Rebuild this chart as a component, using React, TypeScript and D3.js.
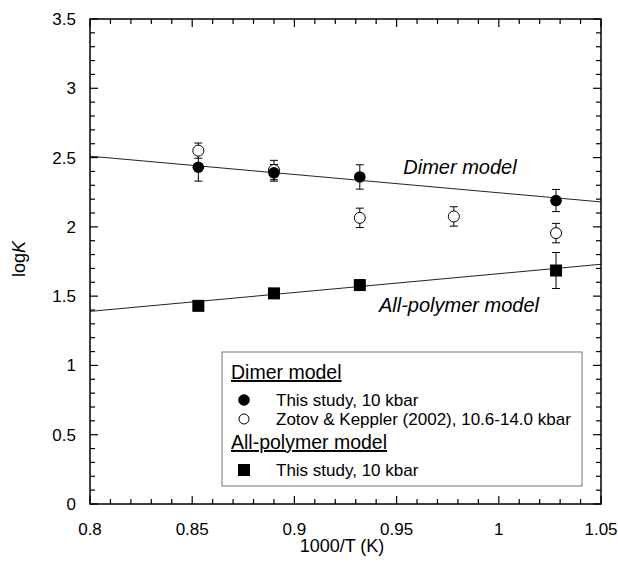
import React from "react";
import * as d3 from "d3";

const dimerX = [0.853, 0.89, 0.932, 1.028];
const dimerY = [2.43, 2.39, 2.36, 2.19];
const dimerErr = [0.1, 0.06, 0.088, 0.08];

const zotovX = [0.853, 0.89, 0.932, 0.978, 1.028];
const zotovY = [2.55, 2.41, 2.065, 2.075, 1.955];
const zotovErr = [0.055, 0.07, 0.07, 0.07, 0.07];

const polyX = [0.853, 0.89, 0.932, 1.028];
const polyY = [1.43, 1.52, 1.58, 1.685];
const polyErr = [0, 0, 0, 0.13];

const dimerLine = [[0.8, 2.51], [1.05, 2.18]];
const polyLine = [[0.8, 1.39], [1.05, 1.73]];

const xTicks = [0.8, 0.85, 0.9, 0.95, 1, 1.05];
const yTicks = [0, 0.5, 1, 1.5, 2, 2.5, 3, 3.5];

const W = 618, H = 566;
const L = 90, T = 19, R = 601, B = 504;

export default function App() {
  const x = d3.scaleLinear().domain([0.8, 1.05]).range([L, R]);
  const y = d3.scaleLinear().domain([0, 3.5]).range([B, T]);
  const line = d3.line<number[]>().x(d => x(d[0])).y(d => y(d[1]));
  const font = "Liberation Sans, Arial, sans-serif";

  const xMinor = d3.range(0, 26).map(i => 0.8 + i * 0.01);
  const yMinor = d3.range(0, 36).map(i => i * 0.1);
  const isMajorX = (v: number) => Math.abs(v * 20 - Math.round(v * 20)) < 1e-6;
  const isMajorY = (v: number) => Math.abs(v * 2 - Math.round(v * 2)) < 1e-6;

  const errBar = (cx: number, cy: number, e: number, key: string) => {
    if (!e) return null;
    const px = x(cx);
    return (
      <g key={key} stroke="#000" strokeWidth={1}>
        <line x1={px} x2={px} y1={y(cy - e)} y2={y(cy + e)} />
        <line x1={px - 4} x2={px + 4} y1={y(cy - e)} y2={y(cy - e)} />
        <line x1={px - 4} x2={px + 4} y1={y(cy + e)} y2={y(cy + e)} />
      </g>
    );
  };

  return (
    <svg width={W} height={H} style={{ position: "absolute", left: 0, top: 0, background: "#fff" }} fontFamily={font}>
      <rect x={0} y={0} width={W} height={H} fill="#fff" />
      {/* fit lines */}
      <path d={line(dimerLine as any) || ""} stroke="#222" strokeWidth={1} fill="none" />
      <path d={line(polyLine as any) || ""} stroke="#222" strokeWidth={1} fill="none" />

      {/* error bars */}
      {zotovX.map((v, i) => errBar(v, zotovY[i], zotovErr[i], "ze" + i))}
      {dimerX.map((v, i) => errBar(v, dimerY[i], dimerErr[i], "de" + i))}
      {polyX.map((v, i) => errBar(v, polyY[i], polyErr[i], "pe" + i))}

      {/* markers */}
      {zotovX.map((v, i) => (
        <circle key={"z" + i} cx={x(v)} cy={y(zotovY[i])} r={5.5} fill="#fff" stroke="#000" strokeWidth={1} />
      ))}
      {dimerX.map((v, i) => (
        <circle key={"d" + i} cx={x(v)} cy={y(dimerY[i])} r={5.8} fill="#000" />
      ))}
      {polyX.map((v, i) => (
        <rect key={"p" + i} x={x(v) - 6} y={y(polyY[i]) - 6} width={12} height={12} fill="#000" />
      ))}

      {/* curve labels */}
      <text x={460} y={174} fontSize={20} fontStyle="italic" textAnchor="middle">Dimer model</text>
      <text x={459} y={312} fontSize={20} fontStyle="italic" textAnchor="middle">All-polymer model</text>

      {/* ticks */}
      {xMinor.map((v, i) => {
        const len = isMajorX(v) ? 8 : 5;
        return (
          <g key={"xt" + i} stroke="#000" strokeWidth={1.2}>
            <line x1={x(v)} x2={x(v)} y1={B} y2={B - len} />
            <line x1={x(v)} x2={x(v)} y1={T} y2={T + len} />
          </g>
        );
      })}
      {yMinor.map((v, i) => {
        const len = isMajorY(v) ? 8 : 5;
        return (
          <g key={"yt" + i} stroke="#000" strokeWidth={1.2}>
            <line x1={L} x2={L + len} y1={y(v)} y2={y(v)} />
            <line x1={R} x2={R - len} y1={y(v)} y2={y(v)} />
          </g>
        );
      })}
      <rect x={L} y={T} width={R - L} height={B - T} fill="none" stroke="#000" strokeWidth={1.5} />

      {/* tick labels */}
      {xTicks.map((v, i) => (
        <text key={"xl" + i} x={x(v)} y={535} fontSize={17} textAnchor="middle">{String(v)}</text>
      ))}
      {yTicks.map((v, i) => (
        <text key={"yl" + i} x={76} y={y(v) + 6} fontSize={17} textAnchor="end">{String(v)}</text>
      ))}

      {/* axis titles */}
      <text x={342} y={552} fontSize={18} textAnchor="middle">1000/T (K)</text>
      <text transform={`translate(25,259) rotate(-90)`} fontSize={18} textAnchor="middle">
        log<tspan fontStyle="italic">K</tspan>
      </text>

      {/* legend */}
      <rect x={222} y={352} width={360} height={134} fill="#fff" stroke="#777" strokeWidth={1} />
      <text x={231} y={379} fontSize={19.5} textDecoration="underline">Dimer model</text>
      <circle cx={244} cy={400} r={5.8} fill="#000" />
      <text x={276} y={406} fontSize={17}>This study, 10 kbar</text>
      <circle cx={244} cy={419} r={5} fill="#fff" stroke="#000" strokeWidth={1} />
      <text x={276} y={425} fontSize={17}>Zotov &amp; Keppler (2002), 10.6-14.0 kbar</text>
      <text x={231} y={449} fontSize={19.5} textDecoration="underline">All-polymer model</text>
      <rect x={238} y={464} width={12} height={12} fill="#000" />
      <text x={276} y={476} fontSize={17}>This study, 10 kbar</text>
    </svg>
  );
}
